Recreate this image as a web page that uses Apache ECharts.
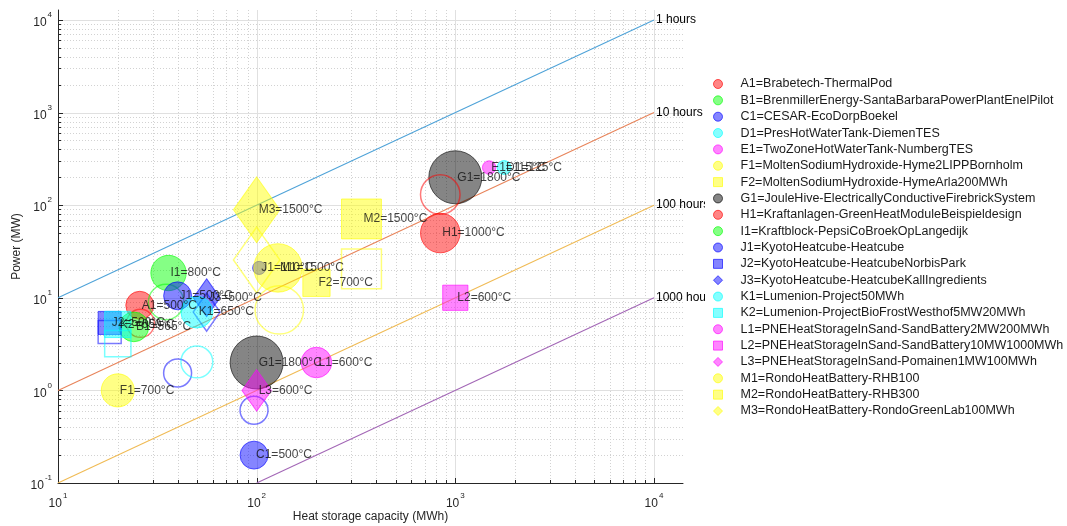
<!DOCTYPE html>
<html><head><meta charset="utf-8">
<script src="https://cdn.jsdelivr.net/npm/echarts@6/dist/echarts.min.js"></script>
<style>html,body{margin:0;padding:0;background:#fff}#c{width:1067px;height:526px}</style>
</head><body><div id="c"></div>
<script>
// ---------- data ----------
const seriesNames = [
  'A1=Brabetech-ThermalPod',
  'B1=BrenmillerEnergy-SantaBarbaraPowerPlantEnelPilot',
  'C1=CESAR-EcoDorpBoekel',
  'D1=PresHotWaterTank-DiemenTES',
  'E1=TwoZoneHotWaterTank-NumbergTES',
  'F1=MoltenSodiumHydroxide-Hyme2LIPPBornholm',
  'F2=MoltenSodiumHydroxide-HymeArla200MWh',
  'G1=JouleHive-ElectricallyConductiveFirebrickSystem',
  'H1=Kraftanlagen-GreenHeatModuleBeispieldesign',
  'I1=Kraftblock-PepsiCoBroekOpLangedijk',
  'J1=KyotoHeatcube-Heatcube',
  'J2=KyotoHeatcube-HeatcubeNorbisPark',
  'J3=KyotoHeatcube-HeatcubeKallIngredients',
  'K1=Lumenion-Project50MWh',
  'K2=Lumenion-ProjectBioFrostWesthof5MW20MWh',
  'L1=PNEHeatStorageInSand-SandBattery2MW200MWh',
  'L2=PNEHeatStorageInSand-SandBattery10MW1000MWh',
  'L3=PNEHeatStorageInSand-Pomainen1MW100MWh',
  'M1=RondoHeatBattery-RHB100',
  'M2=RondoHeatBattery-RHB300',
  'M3=RondoHeatBattery-RondoGreenLab100MWh'
];
const seriesShapes = ['circle','circle','circle','circle','circle','circle','rect','circle','circle','circle',
  'circle','rect','diamond','circle','rect','circle','rect','diamond','circle','rect','diamond'];
const seriesColors = ['255,0,0','0,255,0','0,0,255','0,255,255','255,0,255','255,255,0','255,255,0','0,0,0','255,0,0','0,255,0',
  '0,0,255','0,0,255','0,0,255','0,255,255','0,255,255','255,0,255','255,0,255','255,0,255','255,255,0','255,255,0','255,255,0'];

// one entry per marker
const pointSeries = [0,0, 1, 2,2, 3, 4, 5, 6, 7,7, 8,8, 9,9, 10,10,10, 11,11, 12,12, 13,13, 14,14, 15, 16, 17, 18,18, 19,19, 20,20];
const pointCapacity = [25.8,26, 24.1, 97,97, 1760, 1480, 20, 200, 1000,100, 840,840, 36,35, 40,40,103, 18.2,18.2, 56,56, 50,50, 20,20, 200, 1000, 100, 128,130, 337,337, 100,100];
const pointPower = [8.3,5.3, 4.85, 0.2,0.61, 255, 255, 1.0, 14.5, 200,2.0, 50,130, 18.5,9, 10.5,1.54,21, 5.35,4.27, 10,7.0, 7.0,2.03, 5.15,3.2, 2.0, 10, 1.0, 21,7.4, 71,20.5, 89,25.6];
const pointTemp = [500,500, 565, 500,500, 125, 115, 700, 700, 1800,1800, 1000,1000, 800,800, 500,500,110, 500,500, 500,500, 650,650, 650,650, 600, 600, 600, 1500,1500, 1500,1500, 1500,1500];
const pointFilled = [1,0, 1, 1,0, 1, 1, 1, 1, 1,1, 1,0, 1,0, 1,0,1, 1,0, 1,0, 1,0, 1,0, 1, 1, 1, 1,0, 1,0, 1,0];
const pointLabel = ['A1=500°C','', 'B1=565°C', 'C1=500°C','', 'D1=125°C', 'E1=115°C', 'F1=700°C', 'F2=700°C',
  'G1=1800°C','G1=1800°C', 'H1=1000°C','', 'I1=800°C','', 'J1=500°C','','J1=110°C', 'J2=500°C','', 'J3=500°C','',
  'K1=650°C','', 'K2=650°C','', 'L1=600°C', 'L2=600°C', 'L3=600°C', 'M1=1500°C','', 'M2=1500°C','', 'M3=1500°C',''];

const hourLabels = ['1 hours','10 hours','100 hours','1000 hours'];
const hourLineCapacity = [[10,10000],[10,10000],[10,10000],[100,10000]];
const hourLinePower = [[10,10000],[1,1000],[0.1,100],[0.1,10]];
const hourLineColors = ['#4fa3d8','#e8845a','#f0bb55','#a367b6'];

const xMajorTicks = [10,100,1000,10000];
const yMajorTicks = [0.1,1,10,100,1000,10000];
const xRange = [10, 14000];
const yRange = [0.1, 12800];

// ---------- helpers ----------
const FONT = "'Liberation Sans', Arial, Helvetica, sans-serif";
function minorTicks(majors, maxV) {
  const out = [];
  majors.forEach(m => { for (let k = 2; k <= 9; k++) { const v = m * k; if (v <= maxV) out.push(+v.toPrecision(6)); } });
  return out;
}
const xMinorTicks = minorTicks(xMajorTicks, xRange[1]);
const yMinorTicks = minorTicks(yMajorTicks, yRange[1]);

function symSize(shape, T) {
  const r = Math.sqrt(T);
  if (shape === 'circle') return 1.25 * r;
  if (shape === 'rect') return 1.03 * r;
  return [1.2 * r, 1.7 * r];
}
function powLabel(v) {
  const e = Math.round(Math.log10(v));
  if (Math.abs(v - Math.pow(10, e)) / Math.pow(10, e) > 1e-6) return '';
  return '{b|10}{s|' + e + '}';
}
const axisRich = {
  b: {fontSize: 12, fontFamily: FONT, color: '#262626', lineHeight: 18, verticalAlign: 'bottom'},
  s: {fontSize: 8, fontFamily: FONT, color: '#262626', lineHeight: 18, verticalAlign: 'top', padding: [0,0,0,1]}
};

function gridSeries(dim, values, kind) {
  const tickLen = kind === 'major' ? 5 : 3;
  const lineStyle = kind === 'major'
    ? {stroke: '#e0e0e0', lineWidth: 1}
    : {stroke: '#d2d2d2', lineWidth: 1, lineDash: [1, 2]};
  return {
    type: 'custom', silent: true, z: 0, animation: false,
    data: values.map(v => dim === 'x' ? [v, 1] : [100, v]),
    renderItem(params, api) {
      const cs = params.coordSys;
      const p = api.coord([api.value(0), api.value(1)]);
      const ch = [];
      if (dim === 'x') {
        const x = Math.round(p[0]) + 0.5;
        ch.push({type: 'line', shape: {x1: x, y1: cs.y, x2: x, y2: cs.y + cs.height}, style: lineStyle});
        ch.push({type: 'line', shape: {x1: x, y1: cs.y + cs.height, x2: x, y2: cs.y + cs.height - tickLen}, style: {stroke: '#262626', lineWidth: 1}});
      } else {
        const y = Math.round(p[1]) + 0.5;
        ch.push({type: 'line', shape: {x1: cs.x, y1: y, x2: cs.x + cs.width, y2: y}, style: lineStyle});
        ch.push({type: 'line', shape: {x1: cs.x, y1: y, x2: cs.x + tickLen, y2: y}, style: {stroke: '#262626', lineWidth: 1}});
      }
      return {type: 'group', children: ch};
    }
  };
}

// ---------- series ----------
const series = [];
series.push(gridSeries('x', xMinorTicks, 'minor'));
series.push(gridSeries('y', yMinorTicks, 'minor'));
series.push(gridSeries('x', xMajorTicks, 'major'));
series.push(gridSeries('y', yMajorTicks, 'major'));

hourLabels.forEach((lab, i) => {
  series.push({
    type: 'line', z: 1, silent: true, showSymbol: false, symbol: 'none', animation: false,
    data: hourLineCapacity[i].map((c, j) => [c, hourLinePower[i][j]]),
    lineStyle: {color: hourLineColors[i], width: 1.1},
    endLabel: {show: true, formatter: lab, color: '#000', fontSize: 12, fontFamily: FONT, distance: 2}
  });
});

seriesNames.forEach((name, si) => {
  const shape = seriesShapes[si];
  const col = seriesColors[si];
  const data = [];
  pointSeries.forEach((s, k) => {
    if (s !== si) return;
    const filled = pointFilled[k] === 1;
    data.push({
      value: [pointCapacity[k], pointPower[k]],
      symbol: shape,
      symbolSize: symSize(shape, pointTemp[k]),
      itemStyle: filled
        ? {color: 'rgba(' + col + ',0.6)', borderColor: 'rgba(' + col + ',0.75)', borderWidth: 1}
        : {color: 'rgba(255,255,255,0)', borderColor: 'rgba(' + col + ',0.65)', borderWidth: 1.5},
      label: {
        show: pointLabel[k] !== '', formatter: pointLabel[k],
        position: ['50%', '50%'], align: 'left', verticalAlign: 'middle', offset: [2, 0],
        color: '#111', fontSize: 12, fontFamily: FONT
      }
    });
  });
  series.push({
    type: 'scatter', name: name, z: 2, animation: false,
    emphasis: {disabled: true},
    data: data
  });
});

const legendData = seriesNames.map((n, i) => ({
  name: n,
  icon: seriesShapes[i],
  itemStyle: {color: 'rgba(' + seriesColors[i] + ',0.6)', borderColor: 'rgba(' + seriesColors[i] + ',0.8)', borderWidth: 1}
}));

const chart = echarts.init(document.getElementById('c'), null, {renderer: 'canvas'});
chart.setOption({
  animation: false,
  backgroundColor: '#fff',
  grid: {left: 58, right: 384, top: 10, bottom: 43, containLabel: false, outerBoundsMode: 'none'},
  xAxis: {
    type: 'log', logBase: 10, min: xRange[0], max: xRange[1],
    name: 'Heat storage capacity (MWh)', nameLocation: 'middle', nameGap: 28, nameMoveOverlap: false,
    nameTextStyle: {fontSize: 12, fontFamily: FONT, color: '#262626'},
    axisLine: {show: true, lineStyle: {color: '#262626', width: 1}},
    axisTick: {show: false}, splitLine: {show: false}, minorTick: {show: false},
    axisLabel: {margin: 9, formatter: powLabel, rich: axisRich, showMaxLabel: true}
  },
  yAxis: {
    type: 'log', logBase: 10, min: yRange[0], max: yRange[1],
    name: 'Power (MW)', nameLocation: 'middle', nameGap: 35, nameMoveOverlap: false,
    nameTextStyle: {fontSize: 12, fontFamily: FONT, color: '#262626'},
    axisLine: {show: true, lineStyle: {color: '#262626', width: 1}},
    axisTick: {show: false}, splitLine: {show: false},
    axisLabel: {margin: 6, formatter: powLabel, rich: axisRich}
  },
  legend: {
    orient: 'vertical', left: 705, top: 72,
    padding: [5, 5, 5, 8], backgroundColor: '#fff', z: 10,
    itemWidth: 9, itemHeight: 9, itemGap: 2.35,
    selectedMode: false,
    textStyle: {fontSize: 12.5, fontFamily: FONT, color: '#1a1a1a', lineHeight: 14, padding: [0, 0, 0, 13]},
    data: legendData
  },
  series: series
});
</script></body></html>
